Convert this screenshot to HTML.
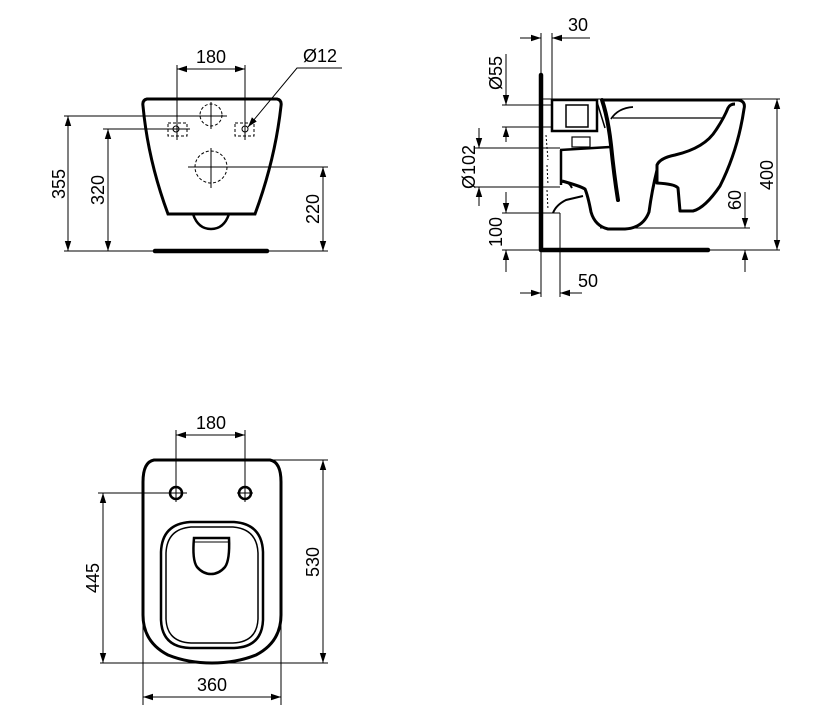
<!DOCTYPE html>
<html><head><meta charset="utf-8"><style>
html,body{margin:0;padding:0;background:#fff;}
svg{display:block;}
text{font-family:"Liberation Sans",Arial,sans-serif;font-size:18px;fill:#000;}
</style></head><body>
<svg width="814" height="717" viewBox="0 0 814 717" xmlns="http://www.w3.org/2000/svg">
<defs>
<marker id="a" markerWidth="10" markerHeight="8" refX="10" refY="4" orient="auto" markerUnits="userSpaceOnUse">
<path d="M0,0.8 L10,4 L0,7.2 Z" fill="#000"/>
</marker>
</defs>
<g stroke="#000" fill="none" stroke-width="1">
<!-- ===== FRONT VIEW ===== -->
<path d="M147,99 L277,99 Q282,100 281,106 Q275,160 255,214 L168,214 Q148,160 143,106 Q142,100 147,99 Z" stroke-width="3"/>
<path d="M193,214 Q198,229 211,229 Q224,229 229,214" stroke-width="2.5"/>
<line x1="155" y1="251" x2="267" y2="251" stroke-width="4.5" stroke-linecap="round"/>
<circle cx="211" cy="115" r="11" stroke-dasharray="3,2"/>
<line x1="211" y1="102" x2="211" y2="129"/>
<circle cx="211" cy="167" r="16" stroke-dasharray="3,2"/>
<line x1="211" y1="148" x2="211" y2="188"/>
<line x1="188" y1="167" x2="328" y2="167"/>
<rect x="168" y="123" width="19" height="13" stroke-dasharray="3,2"/>
<rect x="235" y="123" width="19" height="13" stroke-dasharray="3,2"/>
<circle cx="176" cy="129" r="3"/><circle cx="245" cy="129" r="3"/>
<line x1="64" y1="116" x2="227" y2="116"/>
<line x1="103" y1="129" x2="190" y2="129"/>
<line x1="64" y1="251" x2="328" y2="251"/>
<line x1="177" y1="65" x2="177" y2="140"/>
<line x1="245" y1="65" x2="245" y2="140"/>
<line x1="211" y1="69" x2="177" y2="69" marker-end="url(#a)"/>
<line x1="211" y1="69" x2="245" y2="69" marker-end="url(#a)"/>
<line x1="68" y1="184" x2="68" y2="116" marker-end="url(#a)"/>
<line x1="68" y1="184" x2="68" y2="251" marker-end="url(#a)"/>
<line x1="108" y1="190" x2="108" y2="129" marker-end="url(#a)"/>
<line x1="108" y1="190" x2="108" y2="251" marker-end="url(#a)"/>
<line x1="323" y1="209" x2="323" y2="167" marker-end="url(#a)"/>
<line x1="323" y1="209" x2="323" y2="251" marker-end="url(#a)"/>
<polyline points="342,68 297,68 248,127" marker-end="url(#a)"/>

<!-- ===== SIDE VIEW ===== -->
<polyline points="541,75 541,250 708,250" stroke-width="4.5" stroke-linecap="round" stroke-linejoin="round"/>
<line x1="541" y1="250" x2="780" y2="250"/>
<line x1="541" y1="99" x2="780" y2="99"/>
<rect x="552" y="100" width="45" height="31" stroke-width="2.5"/>
<rect x="566" y="105" width="22" height="22" stroke-width="1.5"/>
<rect x="572" y="137" width="18" height="10" stroke-width="1.2"/>
<path d="M602,100 L738,100 Q746,101 744,109 Q738,150 720,186 Q705,208 693,211 L680,211 L678,188 Q675,184 657,183 L657,165 Q660,158 675,155 Q705,148 716,130 Q724,118 728,108 Q730,104 735,104" stroke-width="3" stroke-linejoin="round"/>
<path d="M657,170 Q652,190 649,212 Q643,228 625,229 L608,229 Q595,226 591,212 Q588,196 585,189 Q580,186 562,181" stroke-width="3" stroke-linejoin="round"/>
<path d="M602,100 Q608,118 611,145 Q614,175 618,200" stroke-width="4" stroke-linecap="round"/>
<path d="M597,102 L605,128" stroke-width="1.5"/>
<line x1="613" y1="118" x2="723" y2="118" stroke-width="1.2"/>
<path d="M611,119 Q618,108 633,107" stroke-width="1.8"/>
<path d="M560,150 L610,147" stroke-width="2.5"/>
<line x1="561" y1="150" x2="561" y2="185" stroke-width="2.5"/>
<path d="M562,182 Q568,180 572,188 M553,213 Q556,205 566,200 L583,196" stroke-width="2"/>
<path d="M546,135 L548,160 M547,165 L548,185 M547,190 L548,210" stroke-width="1" stroke-dasharray="2,2"/>
<line x1="552" y1="33" x2="552" y2="99"/>
<line x1="541" y1="33" x2="541" y2="75"/>
<line x1="520" y1="38" x2="541" y2="38" marker-end="url(#a)"/>
<line x1="590" y1="38" x2="552" y2="38" marker-end="url(#a)"/>
<line x1="502" y1="105" x2="552" y2="105"/>
<line x1="502" y1="127" x2="552" y2="127"/>
<line x1="506" y1="54" x2="506" y2="105" marker-end="url(#a)"/>
<line x1="506" y1="142" x2="506" y2="127" marker-end="url(#a)"/>
<line x1="475" y1="148" x2="560" y2="148"/>
<line x1="475" y1="187" x2="560" y2="187"/>
<line x1="479" y1="128" x2="479" y2="148" marker-end="url(#a)"/>
<line x1="479" y1="206" x2="479" y2="187" marker-end="url(#a)"/>
<line x1="502" y1="213" x2="560" y2="213"/>
<line x1="502" y1="250" x2="541" y2="250"/>
<line x1="506" y1="192" x2="506" y2="213" marker-end="url(#a)"/>
<line x1="506" y1="272" x2="506" y2="250" marker-end="url(#a)"/>
<line x1="560" y1="213" x2="560" y2="297"/>
<line x1="541" y1="250" x2="541" y2="297"/>
<line x1="520" y1="293" x2="541" y2="293" marker-end="url(#a)"/>
<line x1="582" y1="293" x2="560" y2="293" marker-end="url(#a)"/>
<line x1="777" y1="175" x2="777" y2="99" marker-end="url(#a)"/>
<line x1="777" y1="175" x2="777" y2="250" marker-end="url(#a)"/>
<line x1="600" y1="228" x2="750" y2="228"/>
<line x1="745" y1="192" x2="745" y2="228" marker-end="url(#a)"/>
<line x1="745" y1="272" x2="745" y2="250" marker-end="url(#a)"/>

<!-- ===== TOP VIEW ===== -->
<path d="M154,460 L270,460 Q281,462 281,482 L281,615 Q281,642 256,655 Q236,663 212,663 Q188,663 168,655 Q143,642 143,615 L143,482 Q143,462 154,460 Z" stroke-width="3"/>
<path d="M190,522 L234,522 Q262,524 263,552 L263,620 Q262,647 234,648 L190,648 Q162,647 161,620 L161,552 Q162,524 190,522 Z" stroke-width="2.5"/>
<path d="M191,527 L233,527 Q257,529 258,553 L258,619 Q257,642 233,643 L191,643 Q167,642 166,619 L166,553 Q167,529 191,527 Z" stroke-width="1.5"/>
<path d="M194,538 L229,538 Q230,560 225,567 Q219,574 211,574 Q203,574 197,567 Q192,560 194,538 Z" stroke-width="2.5"/>
<line x1="194" y1="542" x2="229" y2="542" stroke-width="1"/>
<circle cx="176" cy="493" r="6" stroke-width="2.5"/>
<circle cx="245" cy="493" r="6" stroke-width="2.5"/>
<line x1="176" y1="430" x2="176" y2="502"/>
<line x1="245" y1="430" x2="245" y2="502"/>
<line x1="98" y1="493" x2="187" y2="493"/>
<line x1="237" y1="493" x2="253" y2="493"/>
<line x1="211" y1="435" x2="176" y2="435" marker-end="url(#a)"/>
<line x1="211" y1="435" x2="245" y2="435" marker-end="url(#a)"/>
<line x1="270" y1="460" x2="328" y2="460"/>
<line x1="100" y1="663" x2="328" y2="663"/>
<line x1="323" y1="562" x2="323" y2="460" marker-end="url(#a)"/>
<line x1="323" y1="562" x2="323" y2="663" marker-end="url(#a)"/>
<line x1="103" y1="578" x2="103" y2="493" marker-end="url(#a)"/>
<line x1="103" y1="578" x2="103" y2="663" marker-end="url(#a)"/>
<line x1="143" y1="615" x2="143" y2="705"/>
<line x1="281" y1="615" x2="281" y2="705"/>
<line x1="212" y1="697" x2="143" y2="697" marker-end="url(#a)"/>
<line x1="212" y1="697" x2="281" y2="697" marker-end="url(#a)"/>
</g>
<g>
<text x="211" y="63" text-anchor="middle">180</text>
<text x="320" y="62" text-anchor="middle">Ø12</text>
<text transform="translate(65,184) rotate(-90)" text-anchor="middle">355</text>
<text transform="translate(104,190) rotate(-90)" text-anchor="middle">320</text>
<text transform="translate(319,209) rotate(-90)" text-anchor="middle">220</text>
<text x="578" y="31" text-anchor="middle">30</text>
<text transform="translate(502,73) rotate(-90)" text-anchor="middle">Ø55</text>
<text transform="translate(475,167) rotate(-90)" text-anchor="middle">Ø102</text>
<text transform="translate(502,232) rotate(-90)" text-anchor="middle">100</text>
<text x="588" y="287" text-anchor="middle">50</text>
<text transform="translate(773,175) rotate(-90)" text-anchor="middle">400</text>
<text transform="translate(741,200) rotate(-90)" text-anchor="middle">60</text>
<text x="211" y="429" text-anchor="middle">180</text>
<text transform="translate(319,562) rotate(-90)" text-anchor="middle">530</text>
<text transform="translate(99,578) rotate(-90)" text-anchor="middle">445</text>
<text x="212" y="691" text-anchor="middle">360</text>
</g>
</svg>
</body></html>
